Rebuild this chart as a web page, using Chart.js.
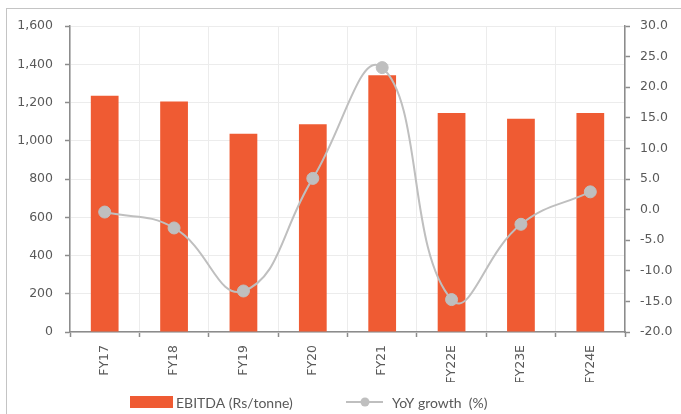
<!DOCTYPE html>
<html>
<head>
<meta charset="utf-8">
<script src="https://cdn.jsdelivr.net/npm/chart.js@4/dist/chart.umd.min.js"></script>
<style>
  html, body { margin: 0; padding: 0; background: #fff; }
  #wrap { position: relative; width: 681px; height: 414px; overflow: hidden; }
  #frame { position: absolute; left: 6px; top: 8px; width: 800px; height: 500px;
           border: 1px solid #c4c4c4; box-sizing: border-box; }
  canvas { position: absolute; left: 0; top: 0; }
</style>
</head>
<body>
<div id="wrap">
  <div id="frame"></div>
  <canvas id="c" width="681" height="414"></canvas>
</div>
<script>
// Fiscal years (E = estimate)
const categories = ['FY17', 'FY18', 'FY19', 'FY20', 'FY21', 'FY22E', 'FY23E', 'FY24E'];
// EBITDA per tonne, Rs
const ebitdaPerTonne = [1235, 1205, 1037, 1086, 1342, 1145, 1115, 1145];
// Year-on-year growth, %
const yoyGrowth = [-0.4, -3.0, -13.3, 5.1, 23.2, -14.7, -2.4, 2.9];

const ebitdaLabel = 'EBITDA (Rs/tonne)';
const growthLabel = 'YoY growth  (%)';

const BAR_COLOR = '#EF5B33';
const LINE_COLOR = '#BFBFBF';
const AXIS_COLOR = '#8C8C8C';
const GRID_COLOR = '#ECECEC';
const TEXT_COLOR = '#595959';

Chart.defaults.font.family = "'DejaVu Sans', sans-serif";
Chart.defaults.font.size = 12.5;
Chart.defaults.color = TEXT_COLOR;

// Legend drawn under the x-axis labels: orange swatch + line-with-dot
const bottomLegend = {
  id: 'bottomLegend',
  afterDraw(chart) {
    const ctx = chart.ctx;
    const y = 402;
    ctx.save();
    ctx.font = "14px Lato, 'Open Sans', sans-serif";
    ctx.fillStyle = TEXT_COLOR;
    ctx.textBaseline = 'middle';
    ctx.textAlign = 'left';

    ctx.fillStyle = BAR_COLOR;
    ctx.fillRect(130, 396, 43, 12);
    ctx.fillStyle = TEXT_COLOR;
    ctx.fillText(ebitdaLabel, 176, y + 1);

    ctx.strokeStyle = LINE_COLOR;
    ctx.lineWidth = 2;
    ctx.beginPath();
    ctx.moveTo(346, y);
    ctx.lineTo(383, y);
    ctx.stroke();
    ctx.fillStyle = LINE_COLOR;
    ctx.beginPath();
    ctx.arc(365, y, 4.5, 0, Math.PI * 2);
    ctx.fill();
    ctx.fillStyle = TEXT_COLOR;
    ctx.fillText(growthLabel, 392, y + 1);
    ctx.restore();
  }
};

new Chart(document.getElementById('c'), {
  data: {
    labels: categories,
    datasets: [
      {
        type: 'line',
        label: growthLabel,
        data: yoyGrowth,
        yAxisID: 'y1',
        order: 0,
        borderColor: LINE_COLOR,
        borderWidth: 2,
        backgroundColor: LINE_COLOR,
        pointBackgroundColor: LINE_COLOR,
        pointBorderColor: LINE_COLOR,
        pointBorderWidth: 1,
        pointRadius: 6,
        tension: 0.45,
        fill: false
      },
      {
        type: 'bar',
        label: ebitdaLabel,
        data: ebitdaPerTonne,
        yAxisID: 'y',
        order: 1,
        backgroundColor: BAR_COLOR,
        borderWidth: 0,
        barPercentage: 0.4,
        categoryPercentage: 1.0
      }
    ]
  },
  options: {
    responsive: false,
    animation: false,
    devicePixelRatio: 1,
    layout: { padding: { left: 0, right: 0, top: 26, bottom: 32 } },
    plugins: {
      legend: { display: false },
      tooltip: { enabled: false }
    },
    scales: {
      x: {
        type: 'category',
        offset: true,
        grid: {
          offset: true,
          color: GRID_COLOR,
          lineWidth: 1,
          drawTicks: true,
          tickLength: 5,
          tickColor: AXIS_COLOR,
          tickWidth: 1.5
        },
        border: { color: AXIS_COLOR, width: 1.5 },
        ticks: { minRotation: 90, maxRotation: 90, padding: 8, color: TEXT_COLOR },
        afterFit(scale) { scale.height = 50; }
      },
      y: {
        position: 'left',
        min: 0,
        max: 1600,
        grid: {
          color: GRID_COLOR,
          lineWidth: 1,
          tickLength: 5,
          tickColor: AXIS_COLOR,
          tickWidth: 1.5
        },
        border: { color: AXIS_COLOR, width: 1.5 },
        ticks: {
          stepSize: 200,
          padding: 12,
          color: TEXT_COLOR,
          callback: v => v.toLocaleString('en-US')
        },
        afterFit(scale) { scale.width = 70; }
      },
      y1: {
        position: 'right',
        min: -20,
        max: 30,
        grid: {
          drawOnChartArea: false,
          tickLength: 5,
          tickColor: AXIS_COLOR,
          tickWidth: 1.5
        },
        border: { color: AXIS_COLOR, width: 1.5 },
        ticks: {
          stepSize: 5,
          padding: 10,
          color: TEXT_COLOR,
          callback: v => v.toFixed(1)
        },
        afterFit(scale) { scale.width = 56; }
      }
    }
  },
  plugins: [bottomLegend]
});
</script>
</body>
</html>
